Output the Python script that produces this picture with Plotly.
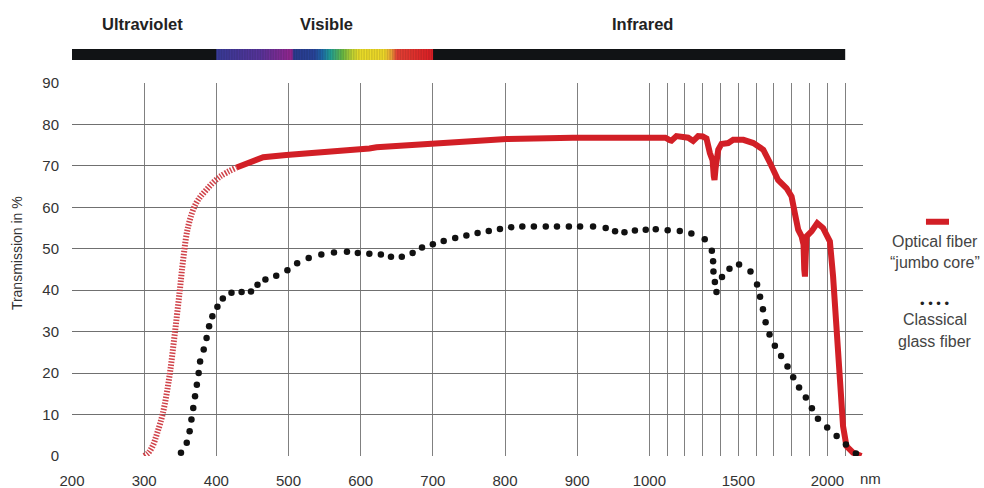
import numpy as np
import plotly.graph_objects as go

# ---------------- data ----------------
# Optical fiber "jumbo core" – UV part (hatched)
uv_wl = [300, 306, 312, 318, 326, 335, 342, 349, 354, 361, 372, 386, 405, 428]
uv_val = [0.0, 0.8, 2.5, 5.5, 10.4, 19.2, 28.9, 39.4, 47.3, 55.4, 61.0, 64.2, 67.4, 69.6]

# Optical fiber "jumbo core" – main part (solid)
of_wl = [428, 451, 465, 497, 550, 599, 612, 622, 650, 700, 751, 802, 894, 1000, 1059,
         1090, 1115, 1124, 1152, 1190, 1218, 1246, 1262, 1274, 1300, 1321, 1340, 1355,
         1362, 1366, 1372, 1387, 1405, 1443, 1471, 1528, 1584, 1640, 1678, 1723, 1771,
         1799, 1817, 1836, 1855, 1866, 1870, 1874, 1878, 1883, 1911, 1943, 1976, 2014,
         2032, 2051, 2070, 2088, 2107, 2144, 2191]
of_val = [69.6, 71.4, 72.1, 72.6, 73.2, 73.8, 74.2, 74.5, 74.8, 75.4, 76.1, 76.5, 76.8,
          76.9, 76.9, 76.8, 76.2, 76.1, 77.2, 76.9, 76.8, 76.0, 76.5, 77.2, 77.1, 76.6,
          73.1, 71.4, 67.5, 66.6, 69.5, 73.9, 75.3, 75.5, 76.3, 76.3, 75.5, 73.9, 70.7,
          66.6, 64.6, 62.6, 58.6, 54.6, 53.0, 51.0, 45.0, 43.3, 48.0, 53.0, 54.2, 56.2,
          55.0, 51.8, 43.3, 31.3, 19.2, 7.2, 2.4, 0.8, 0.0]

# Classical glass fiber (dotted)
gf_wl = [351, 359, 363, 365.5, 368, 370.5, 373, 375.5, 377.5, 382.5, 386.5, 390, 394.5,
         401.5, 409, 421, 435, 448, 457, 468, 483, 498.5, 512, 528, 545.5, 563, 581, 596,
         612, 628, 642, 657, 672, 685, 700, 715, 731, 746.5, 762, 777.5, 793, 808.5, 824,
         840, 856.5, 872, 888.5, 904, 922, 939.5, 952.5, 965.5, 980, 995, 1036, 1103,
         1171, 1236, 1311, 1351, 1358, 1360, 1368, 1377, 1408, 1450, 1504, 1568, 1605,
         1622, 1638, 1653, 1675, 1705, 1740, 1776, 1808, 1841, 1879, 1913, 1947, 1999,
         2052, 2104, 2160]
gf_val = [0.8, 3.2, 6.0, 8.8, 11.6, 14.4, 17.2, 20.0, 22.8, 25.7, 28.5, 31.3, 33.7, 36.0,
          38.0, 39.4, 39.6, 39.7, 41.3, 42.6, 43.5, 44.8, 46.5, 47.8, 48.6, 49.1, 49.3,
          49.0, 48.8, 48.6, 48.1, 48.1, 49.0, 50.3, 51.1, 51.9, 52.6, 53.2, 53.8, 54.3,
          54.8, 55.2, 55.4, 55.4, 55.4, 55.4, 55.4, 55.4, 55.4, 55.0, 54.2, 54.0, 54.4,
          54.6, 54.7, 54.5, 54.3, 53.7, 52.3, 49.5, 47.0, 44.5, 42.0, 39.6, 43.2, 45.2,
          46.2, 44.5, 41.4, 38.4, 35.4, 32.3, 29.3, 26.6, 24.1, 21.6, 19.0, 16.5, 14.1,
          11.5, 9.0, 6.9, 4.8, 2.8, 0.6]

# axes
x_grid_wl = list(range(200, 2101, 100))
x_labels = {200: "200", 300: "300", 400: "400", 500: "500", 600: "600", 700: "700",
            800: "800", 900: "900", 1000: "1000", 1500: "1500", 2000: "2000"}
y_ticks = [0, 10, 20, 30, 40, 50, 60, 70, 80, 90]
y_title = "Transmission in %"

# spectrum band
band_start, band_end = 200, 2100
spectrum_stops = [(400, "#3a3d9c"), (460, "#5a36a0"), (505, "#9c2794"), (507, "#2c3d93"),
                  (536, "#2a47a0"), (547, "#1f6fae"), (558, "#22a59c"), (575, "#6cbf45"),
                  (588, "#c5d935"), (599, "#f3e52a"), (633, "#f8e02a"), (643, "#f5a33a"),
                  (650, "#ee4437"), (700, "#e61f26")]
regions = [("Ultraviolet", 298), ("Visible", 553), ("Infrared", 991)]

legend_items = ["Optical fiber", "\u201cjumbo core\u201d", "Classical", "glass fiber"]

# ---------------- helpers ----------------
R = 17.8 / 72.15  # compression of the scale above 1000 nm


def xpos(w):
    w = np.asarray(w, dtype=float)
    return np.where(w <= 1000, w, 1000 + (w - 1000) * R)


def hex2rgb(h):
    h = h.lstrip("#")
    return np.array([int(h[i:i + 2], 16) for i in (0, 2, 4)], dtype=float)


def spectrum_color(w):
    for (w0, c0), (w1, c1) in zip(spectrum_stops[:-1], spectrum_stops[1:]):
        if w0 <= w <= w1:
            t = (w - w0) / (w1 - w0) if w1 > w0 else 0
            c = hex2rgb(c0) * (1 - t) + hex2rgb(c1) * t
            return "rgb(%d,%d,%d)" % tuple(np.round(c))
    return spectrum_stops[-1][1]


RED = "#d21f26"
FONT = "Liberation Sans, Arial, sans-serif"

fig = go.Figure()

fig.add_trace(go.Scatter(x=xpos(uv_wl), y=uv_val, mode="lines", line_shape="spline",
                         line=dict(color="#d0434a", width=6, dash="1.5px,1.5px"),
                         hoverinfo="skip", showlegend=False))
fig.add_trace(go.Scatter(x=xpos(of_wl), y=of_val, mode="lines",
                         line=dict(color=RED, width=6), hoverinfo="skip", showlegend=False))
fig.add_trace(go.Scatter(x=xpos(gf_wl), y=gf_val, mode="markers",
                         marker=dict(color="#111111", size=6.5), hoverinfo="skip",
                         showlegend=False))
# helper trace for gridded overlay axis
fig.add_trace(go.Scatter(x=[None], y=[None], yaxis="y2", showlegend=False, hoverinfo="skip"))

shapes = []
# top band (black)
by0, by1 = (456 - 60) / 373, (456 - 49) / 373
shapes.append(dict(type="rect", xref="x", yref="paper", x0=float(xpos(band_start)),
                   x1=float(xpos(band_end)), y0=by0, y1=by1, fillcolor="#111315",
                   line=dict(width=0), layer="above"))
# visible spectrum gradient
steps = np.arange(400, 700, 1.0)
for w in steps:
    shapes.append(dict(type="rect", xref="x", yref="paper", x0=float(w), x1=float(w + 1.3),
                       y0=by0, y1=by1, fillcolor=spectrum_color(w + 0.5),
                       line=dict(width=0), layer="above"))
# legend swatch
shapes.append(dict(type="line", xref="paper", yref="paper", x0=1.0796, x1=1.1087,
                   y0=0.628, y1=0.628, line=dict(color=RED, width=6)))
fig.update_layout(shapes=shapes)

ann = []
for name, w in regions:
    ann.append(dict(text="<b>%s</b>" % name, x=float(xpos(w)), xref="x", y=1.158, yref="paper",
                    xanchor="center", yanchor="middle", showarrow=False,
                    font=dict(family=FONT, size=16.5, color="#222")))
ann.append(dict(text=y_title, textangle=-90, x=-0.0695, xref="paper", y=0.544, yref="paper",
                xanchor="center", yanchor="middle", showarrow=False,
                font=dict(family=FONT, size=14, color="#333")))
ann.append(dict(text="nm", x=1.010, xref="paper", y=-0.061, yref="paper", showarrow=False,
                xanchor="center", yanchor="middle",
                font=dict(family=FONT, size=15, color="#333")))
leg_y = [0.574, 0.520, 0.365, 0.306]
for t, yy in zip(legend_items, leg_y):
    ann.append(dict(text=t, x=1.091, xref="paper", y=yy, yref="paper", showarrow=False,
                    xanchor="center", yanchor="middle",
                    font=dict(family=FONT, size=16, color="#444")))
ann.append(dict(text="\u2022 \u2022 \u2022 \u2022", x=1.091, xref="paper", y=0.41, yref="paper",
                xanchor="center", yanchor="middle", showarrow=False,
                font=dict(family=FONT, size=13, color="#222")))
fig.update_layout(annotations=ann)

fig.update_layout(
    width=984, height=488,
    margin=dict(l=72, r=121, t=83, b=32),
    paper_bgcolor="white", plot_bgcolor="white",
    xaxis=dict(range=[200, float(xpos(2200))],
               tickvals=[float(v) for v in xpos(x_grid_wl)],
               ticktext=[x_labels.get(w, "") for w in x_grid_wl],
               showgrid=True, gridcolor="#808080", gridwidth=1, zeroline=False,
               showline=False, ticks="", ticklabelstandoff=14, automargin=False,
               tickfont=dict(family=FONT, size=15, color="#333")),
    yaxis=dict(range=[0, 90], tickvals=y_ticks, showgrid=False, zeroline=False,
               showline=False, ticks="", ticklabelstandoff=12, automargin=False,
               tickfont=dict(family=FONT, size=15, color="#333")),
    yaxis2=dict(range=[0, 90], overlaying="y", tickvals=y_ticks[:-1], showgrid=True,
                gridcolor="#707070", gridwidth=1, zeroline=False, showticklabels=False,
                ticks="", showline=False, automargin=False),
)

fig.write_html("out.html")
